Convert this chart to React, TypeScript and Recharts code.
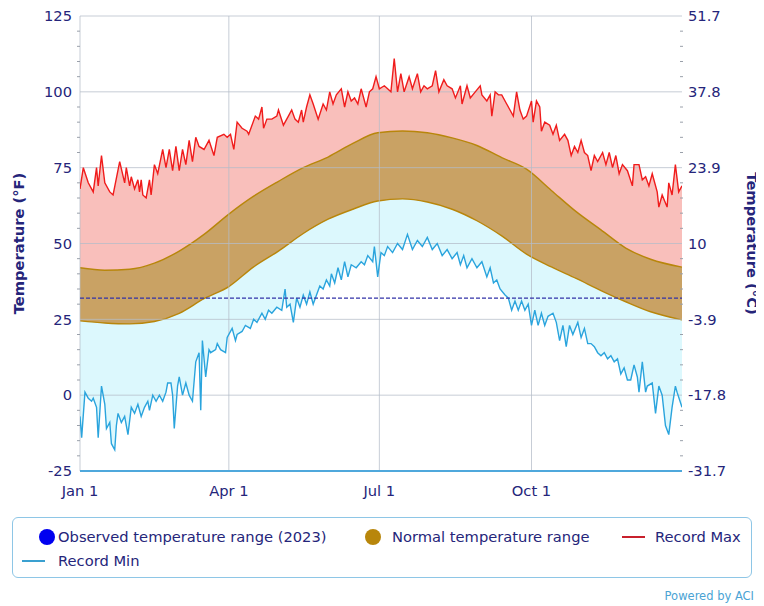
import React from 'react';
import { ComposedChart, Area, Line, XAxis, YAxis, ReferenceLine } from 'recharts';

// ---- data (°F, day-of-year index, Jan 1 = 0) ----
const MONTH_TICK_DAYS = [0, 90, 181, 273];
const MONTH_TICK_LABELS = ['Jan 1', 'Apr 1', 'Jul 1', 'Oct 1'];
const F_TICKS = [-25, -20, -15, -10, -5, 0, 5, 10, 15, 20, 25, 30, 35, 40, 45, 50, 55, 60, 65, 70, 75, 80, 85, 90, 95, 100, 105, 110, 115, 120, 125];
const FREEZING = 32;

const RECORD_MAX: [number, number][] = [
  [0, 68], [2, 75], [5, 70], [8, 67], [10, 75], [11, 69], [13, 79], [15, 70], [18, 67], [20, 66],
  [24, 77], [27, 70], [28, 75], [30, 69], [31, 72], [33, 68], [35, 71], [36, 67], [37, 71], [38, 66],
  [40, 65], [42, 71], [43, 66], [45, 76], [47, 73], [50, 81], [52, 75], [54, 81], [56, 74], [58, 82],
  [60, 74], [62, 81], [64, 76], [66, 84], [68, 77], [70, 85], [72, 82], [75, 81], [78, 84], [81, 79],
  [83, 85], [87, 86], [89, 85], [91, 86], [93, 81], [95, 90], [98, 88], [101, 87], [102, 86], [106, 92],
  [108, 91], [110, 95], [111, 88], [113, 91], [116, 91], [119, 92], [120, 94], [123, 89], [126, 92], [128, 94],
  [130, 91], [132, 90], [134, 94], [135, 90], [137, 95], [139, 99], [141, 96], [144, 91], [147, 96], [149, 94],
  [151, 100], [153, 96], [155, 99], [158, 101], [160, 95], [162, 100], [164, 97], [166, 98], [168, 96], [170, 101],
  [173, 95], [175, 100], [177, 101], [179, 105], [181, 101], [184, 102], [186, 101], [188, 100], [190, 111], [192, 100],
  [194, 106], [196, 100], [199, 105], [201, 101], [204, 106], [206, 100], [208, 102], [210, 101], [213, 102], [215, 107],
  [217, 100], [220, 104], [222, 102], [225, 101], [227, 98], [230, 102], [231, 96], [234, 102], [236, 98], [239, 100],
  [242, 102], [243, 99], [246, 97], [248, 99], [249, 92], [251, 100], [253, 99], [255, 99], [258, 96], [260, 94],
  [262, 92], [264, 100], [266, 94], [268, 91], [270, 92], [273, 97], [274, 90], [276, 97], [278, 95], [279, 87],
  [281, 90], [284, 89], [286, 86], [288, 89], [290, 84], [293, 86], [295, 84], [297, 79], [299, 82], [301, 80],
  [303, 84], [305, 80], [307, 79], [309, 74], [311, 79], [313, 77], [316, 80], [318, 76], [320, 80], [322, 75],
  [324, 79], [326, 73], [328, 76], [331, 74], [334, 69], [335, 76], [338, 76], [340, 71], [342, 72], [344, 69],
  [346, 73], [349, 67], [350, 62], [352, 66], [355, 62], [356, 70], [358, 66], [360, 76], [362, 67], [364, 69],
];

const RECORD_MIN: [number, number][] = [
  [0, -7], [1, -14], [3, 1], [5, -1], [7, -2], [8, -1], [10, -4], [11, -14], [13, 3], [15, -3],
  [16, -11], [18, -9], [19, -16], [21, -18], [22, -10], [23, -6], [25, -9], [27, -7], [29, -13], [31, -4],
  [33, -6], [35, -3], [37, -7], [39, -4], [41, -2], [42, -5], [44, 0], [46, -2], [48, 0], [50, -2],
  [52, 1], [53, 4], [55, 4], [56, 0], [57, -11], [59, 3], [60, 6], [62, 0], [64, 4], [66, 0],
  [68, -2], [70, 11], [72, 14], [73, -5], [74, 18], [76, 6], [78, 15], [79, 14], [82, 15], [83, 17],
  [85, 15], [88, 14], [89, 19], [92, 22], [94, 18], [95, 20], [98, 21], [100, 23], [103, 22], [105, 25],
  [107, 24], [110, 27], [112, 25], [114, 28], [116, 27], [119, 29], [122, 28], [124, 35], [125, 29], [127, 30],
  [129, 24], [131, 32], [133, 29], [135, 33], [137, 30], [139, 34], [141, 30], [143, 33], [145, 36], [147, 35],
  [149, 38], [151, 36], [152, 40], [154, 37], [156, 42], [158, 38], [160, 44], [162, 39], [164, 43], [167, 42],
  [170, 44], [172, 43], [174, 46], [177, 44], [178, 49], [180, 39], [182, 47], [184, 46], [186, 49], [189, 47],
  [192, 50], [195, 48], [198, 53], [201, 48], [204, 51], [207, 49], [210, 52], [213, 48], [216, 50], [219, 46],
  [222, 48], [225, 45], [228, 47], [230, 43], [232, 46], [234, 42], [237, 45], [240, 42], [243, 44], [246, 39],
  [248, 42], [250, 37], [252, 38], [254, 35], [257, 33], [259, 32], [261, 28], [263, 31], [265, 28], [267, 31],
  [269, 28], [271, 30], [273, 23], [275, 28], [277, 23], [279, 27], [281, 23], [283, 26], [286, 27], [288, 24],
  [290, 18], [292, 23], [294, 16], [296, 23], [298, 20], [301, 24], [303, 19], [305, 22], [307, 17], [309, 17],
  [311, 16], [313, 14], [315, 13], [317, 14], [319, 12], [321, 13], [323, 11], [325, 12], [327, 7], [329, 9],
  [331, 5], [333, 5], [335, 10], [337, 6], [338, 1], [340, 11], [342, 1], [343, 3], [346, 4], [348, -6],
  [350, 3], [352, 0], [354, -10], [356, -13], [358, -4], [360, 3], [361, 1], [364, -4],
];

const NORMAL_DAYS = [0, 15, 30, 45, 60, 75, 90, 105, 120, 135, 150, 165, 180, 195, 210, 225, 240, 255, 270, 285, 300, 315, 330, 345, 364];
const NORMAL_LOW = [24.5, 23.8, 23.5, 24.3, 27, 31.8, 35.8, 42.3, 47.5, 53.3, 58, 61.3, 64, 64.7, 63.7, 61.3, 57.5, 52.5, 46.5, 42.3, 38.5, 34.5, 30.8, 27.5, 24.8];
const NORMAL_HIGH = [42, 41.2, 41.5, 43.5, 47.5, 53, 59.7, 65.6, 70.5, 75, 78.5, 83, 86.5, 87.1, 86.5, 84.8, 82.3, 78.3, 74.5, 67.5, 60.5, 54.5, 48.5, 44.8, 42.2];

// ---- tables for the library ----
const maxData = RECORD_MAX.map(([day, v]) => ({ day, v }));
const minData = RECORD_MIN.map(([day, v]) => ({ day, v }));
const normalData = NORMAL_DAYS.map((day, i) => ({ day, low: NORMAL_LOW[i], high: NORMAL_HIGH[i] }));

// ---- styles ----
const FONT = '"DejaVu Sans", Verdana, sans-serif';
const NAVY = '#25257a';
const PINK = '#f9bfbb';
const CYAN = '#dcf8fd';
const BROWN = '#c9a264';
const BROWN_DARK = '#b8860b';
const RED = '#f01c1c';
const BLUE = '#2aa4dd';
const GRID = '#b4bcc8';
const FS = 14.7;

const toC = (f: number) => {
  const c = ((f - 32) * 5) / 9;
  const s = c.toFixed(1);
  return s.endsWith('.0') ? s.slice(0, -2) : s;
};

const LeftTick = (props: any) => {
  const { x, y, payload } = props;
  const v = payload.value;
  if (v % 25 === 0) {
    return (
      <text x={x} y={y} dy="0.355em" textAnchor="end" fill={NAVY} fontSize={FS} fontFamily={FONT}>
        {v}
      </text>
    );
  }
  return <line x1={x + 5} x2={x + 8} y1={y} y2={y} stroke="#9aa0aa" strokeWidth={1} />;
};

const RightTick = (props: any) => {
  const { x, y, payload } = props;
  const v = payload.value;
  if (v % 25 === 0) {
    return (
      <text x={x} y={y} dy="0.355em" textAnchor="start" fill={NAVY} fontSize={FS} fontFamily={FONT}>
        {toC(v)}
      </text>
    );
  }
  return <line x1={x - 8} x2={x - 5} y1={y} y2={y} stroke="#9aa0aa" strokeWidth={1} />;
};

const legendText: React.CSSProperties = {
  position: 'absolute',
  fontFamily: FONT,
  fontSize: FS,
  lineHeight: '18px',
  color: NAVY,
  whiteSpace: 'nowrap',
};

export default function App() {
  return (
    <div style={{ position: 'relative', width: 756, height: 598, fontFamily: FONT }}>
      <ComposedChart width={756} height={598} margin={{ top: 8, right: 0, bottom: 105, left: 0 }}>
        <XAxis
          type="number"
          dataKey="day"
          domain={[0, 364]}
          ticks={MONTH_TICK_DAYS}
          interval={0}
          tickFormatter={(d: number) => MONTH_TICK_LABELS[MONTH_TICK_DAYS.indexOf(d)]}
          axisLine={false}
          tickLine={false}
          tickSize={6}
          tickMargin={9}
          height={30}
          allowDataOverflow
          tick={{ fill: NAVY, fontSize: FS, fontFamily: FONT }}
        />
        <YAxis
          yAxisId="f"
          type="number"
          domain={[-25, 125]}
          ticks={F_TICKS}
          interval={0}
          width={72}
          axisLine={false}
          tickLine={false}
          tickSize={6}
          tickMargin={2}
          allowDataOverflow
          tick={<LeftTick />}
          label={{
            value: 'Temperature (°F)',
            angle: -90,
            position: 'insideLeft',
            offset: 11,
            style: { textAnchor: 'middle', fontWeight: 'bold', fill: NAVY, fontSize: FS, fontFamily: FONT },
          }}
        />
        <YAxis
          yAxisId="c"
          orientation="right"
          type="number"
          domain={[-25, 125]}
          ticks={F_TICKS}
          interval={0}
          width={82}
          axisLine={false}
          tickLine={false}
          tickSize={6}
          tickMargin={0}
          allowDataOverflow
          tick={<RightTick />}
          label={{
            value: 'Temperature (°C)',
            angle: 90,
            position: 'insideRight',
            offset: 12,
            style: { textAnchor: 'middle', fontWeight: 'bold', fill: NAVY, fontSize: FS, fontFamily: FONT },
          }}
        />

        {/* fills */}
        <Area yAxisId="f" data={maxData} dataKey="v" type="linear" baseValue={-25} fill={PINK} fillOpacity={1} stroke="none" dot={false} activeDot={false} isAnimationActive={false} />
        <Area yAxisId="f" data={normalData} dataKey="low" type="monotone" baseValue={-25} fill={CYAN} fillOpacity={1} stroke="none" dot={false} activeDot={false} isAnimationActive={false} />
        <Area yAxisId="f" data={minData} dataKey="v" type="linear" baseValue={-25} fill="#ffffff" fillOpacity={1} stroke="none" dot={false} activeDot={false} isAnimationActive={false} />
        <Area yAxisId="f" data={normalData} dataKey={(d: any) => [d.low, d.high]} type="monotone" fill={BROWN} fillOpacity={1} stroke={BROWN_DARK} strokeWidth={1.4} dot={false} activeDot={false} isAnimationActive={false} />

        {/* grid */}
        {[0, 25, 50, 75, 100, 125].map((v) => (
          <ReferenceLine key={'h' + v} yAxisId="f" y={v} stroke={GRID} strokeOpacity={0.75} strokeWidth={1} zIndex={150} />
        ))}
        {MONTH_TICK_DAYS.map((d) => (
          <ReferenceLine key={'v' + d} yAxisId="f" x={d} stroke={GRID} strokeOpacity={0.75} strokeWidth={1} zIndex={150} />
        ))}
        <ReferenceLine yAxisId="f" y={-25} stroke="#4fa8dc" strokeWidth={2} zIndex={150} />

        {/* lines */}
        <Line yAxisId="f" data={maxData} dataKey="v" type="linear" stroke={RED} strokeWidth={1.4} dot={false} activeDot={false} isAnimationActive={false} />
        <Line yAxisId="f" data={minData} dataKey="v" type="linear" stroke={BLUE} strokeWidth={1.4} dot={false} activeDot={false} isAnimationActive={false} />
        <ReferenceLine yAxisId="f" y={FREEZING} stroke="#3232a8" strokeWidth={1.2} strokeDasharray="4 2" zIndex={450} />
      </ComposedChart>

      {/* legend */}
      <div
        style={{
          position: 'absolute',
          left: 4,
          top: 509,
          width: 740,
          height: 61,
          border: '1.5px solid #8ec6e6',
          borderRadius: 6,
          boxSizing: 'border-box',
        }}
      />
      <div style={{ position: 'absolute', left: 31, top: 521, width: 16, height: 16, borderRadius: 8, background: '#0000f0' }} />
      <div style={{ ...legendText, left: 50, top: 520 }}>Observed temperature range (2023)</div>
      <div style={{ position: 'absolute', left: 357, top: 521, width: 16, height: 16, borderRadius: 8, background: BROWN_DARK }} />
      <div style={{ ...legendText, left: 384, top: 520 }}>Normal temperature range</div>
      <div style={{ position: 'absolute', left: 614, top: 528, width: 23, height: 2, background: '#c8202c' }} />
      <div style={{ ...legendText, left: 647, top: 520 }}>Record Max</div>
      <div style={{ position: 'absolute', left: 14, top: 552, width: 23, height: 2, background: '#3aa0d0' }} />
      <div style={{ ...legendText, left: 50, top: 544 }}>Record Min</div>

      <div style={{ position: 'absolute', right: 10, top: 581, fontFamily: FONT, fontSize: 11.5, color: '#4aa3d4', whiteSpace: 'nowrap' }}>
        Powered by ACI
      </div>
    </div>
  );
}
